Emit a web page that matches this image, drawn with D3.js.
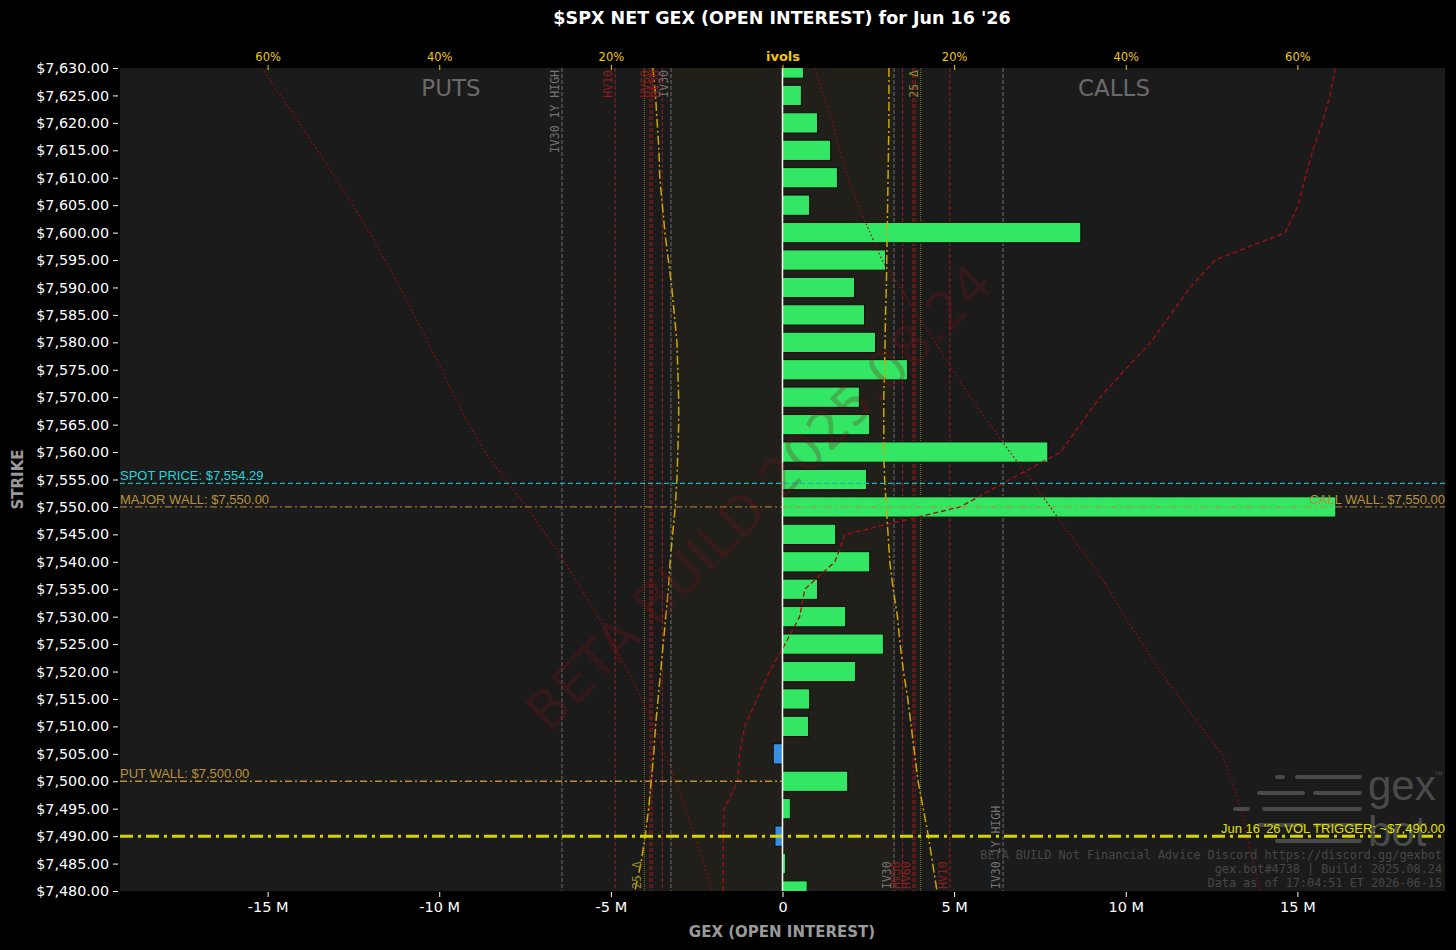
<!DOCTYPE html>
<html><head><meta charset="utf-8">
<script src="https://cdn.jsdelivr.net/npm/d3@7"></script>
<style>
html,body{margin:0;padding:0;background:#000;}
svg{display:block;}
</style></head>
<body>
<svg id="chart" width="1456" height="950"></svg>
<script>
// ---------------- DATA ----------------
const strikes = [7630,7625,7620,7615,7610,7605,7600,7595,7590,7585,7580,7575,7570,7565,7560,7555,7550,7545,7540,7535,7530,7525,7520,7515,7510,7505,7500,7495,7490,7485,7480];
// Net GEX in millions
const netGex = [0.61,0.55,1.02,1.40,1.60,0.79,8.69,3.00,2.10,2.39,2.71,3.64,2.24,2.54,7.73,2.45,16.12,1.55,2.54,1.02,1.84,2.94,2.13,0.79,0.76,-0.27,1.90,0.23,-0.22,0.09,0.72];
// implied vol curves (%), put side drawn left, call side drawn right
const putIvol  = [15.1,14.8,14.6,14.4,14.3,14.0,13.7,13.3,12.9,12.6,12.3,12.2,12.1,12.1,12.2,12.3,12.5,12.8,13.1,13.3,13.6,13.9,14.2,14.5,14.8,15.0,15.3,15.6,16.0,16.5,17.2];
const callIvol = [12.4,12.4,12.4,12.35,12.3,12.25,12.2,12.15,12.1,12.0,11.95,11.9,11.8,11.8,11.8,11.9,12.1,12.3,12.5,12.9,13.4,13.7,14.1,14.6,15.0,15.4,15.8,16.4,17.0,17.5,18.0];
const putSkew  = [60.7,58.5,56.3,54.2,52.1,50.1,48.1,46.3,44.6,42.9,41.3,39.7,38.2,36.5,34.7,32.3,29.8,27.6,25.4,23.4,21.5,19.7,18.0,16.4,14.9,13.7,12.5,11.3,10.2,9.2,8.2];
const callSkew = [3.8,4.7,5.8,6.7,7.6,8.8,10.2,11.6,13.7,15.7,17.8,19.8,21.9,24.2,26.5,28.9,31.2,33.5,35.9,38.0,39.9,42.0,44.0,46.4,48.7,51.2,52.4,53.4,54.1,54.9,55.7];
// signed curve (negative = put side)
const netCurve = [64.4,63.8,62.9,61.8,60.9,60.1,58.6,50.4,47.5,45.2,42.9,39.9,37.0,34.7,32.4,26.5,20.7,7.3,6.1,2.6,2.0,0.3,-1.5,-3.0,-4.4,-5.0,-5.2,-6.8,-6.9,-6.9,-6.9];
// reference vertical vol lines (%)
const volLineNames  = ["IV30","HV30","HV60","HVx","25 Δ","HV10","IV30 1Y HIGH"];
const volLineValues = [13.0, 14.0, 15.2, 15.45, 16.1, 19.5, 25.7];
const volLineKinds  = ["iv","hv","hv","hv","delta","hv","iv"];
const volLineLabeled= [true,true,true,false,true,true,true];
const gexTicks = [-15,-10,-5,0,5,10,15];
const gexTickLabels = ["-15 M","-10 M","-5 M","0","5 M","10 M","15 M"];
const volTicks = [-60,-40,-20,0,20,40,60];
const volTickLabels = ["60%","40%","20%","ivols","20%","40%","60%"];
const spotPrice = 7554.29, majorWall = 7550, callWall = 7550, putWall = 7500, volTrigger = 7490;
const footerLines = ["BETA BUILD Not Financial Advice Discord https://discord.gg/gexbot","gex.bot#4738 | Build: 2025.08.24","Data as of 17:04:51 ET 2026-06-15"];

// ---------------- LAYOUT ----------------
const L = 120, R = 1445, T = 68, B = 891;
const svg = d3.select("#chart");
const x = d3.scaleLinear().domain([-19.3, 19.3]).range([L, R]);
const vx = d3.scaleLinear().domain([-77.2, 77.2]).range([L, R]);
const y = d3.scaleLinear().domain([7480, 7630]).range([B, T]);
const step = Math.abs(y(7485) - y(7480));
const barH = step * 0.74;

svg.append("rect").attr("width",1456).attr("height",950).attr("fill","#000");
svg.append("defs").append("clipPath").attr("id","clip")
  .append("rect").attr("x",L).attr("y",T).attr("width",R-L).attr("height",B-T);

const plot = svg.append("g").attr("clip-path","url(#clip)");
plot.append("rect").attr("x",L).attr("y",T).attr("width",R-L).attr("height",B-T).attr("fill","#1b1b1b");
// central band between IV30 lines
plot.append("rect").attr("x",vx(-13.0)).attr("y",T).attr("width",vx(13.06)-vx(-13.0)).attr("height",B-T).attr("fill","#201f1a");

// vertical reference lines
const kindColor = {iv:"#6e6e6e", hv:"#9a1c1c", delta:"#7c7a22"};
const kindDash = {iv:"4,2", hv:"4,2", delta:"1,1"};
const labelColor = {iv:"#747474", hv:"#8a1d1d", delta:"#8c8a2a"};
volLineValues.forEach((v,i)=>{
  [-1,1].forEach(side=>{
    const xx = vx(side*v);
    plot.append("line").attr("x1",xx).attr("x2",xx).attr("y1",T).attr("y2",B)
      .attr("stroke",kindColor[volLineKinds[i]]).attr("stroke-width",1)
      .attr("stroke-dasharray",kindDash[volLineKinds[i]]);
  });
});

// bars
plot.selectAll("rect.bar").data(strikes).enter().append("rect")
  .attr("x",(d,i)=>Math.min(x(0),x(netGex[i])))
  .attr("y",d=>y(d)-barH/2)
  .attr("width",(d,i)=>Math.abs(x(netGex[i])-x(0)))
  .attr("height",barH)
  .attr("fill",(d,i)=>netGex[i]>=0?"#33e663":"#3a8fe3")
  .attr("stroke","#0b0b0b").attr("stroke-width",1);

// curves
const lineOf = (vals, sign) => d3.line().x((d,i)=>vx(sign*vals[i])).y(d=>y(d));
plot.append("path").attr("d",lineOf(putSkew,-1)(strikes)).attr("fill","none")
  .attr("stroke","#8f0d0d").attr("stroke-width",1.3).attr("stroke-dasharray","1.5,2.5");
plot.append("path").attr("d",lineOf(callSkew,1)(strikes)).attr("fill","none")
  .attr("stroke","#8f0d0d").attr("stroke-width",1.3).attr("stroke-dasharray","1.5,2.5");
plot.append("path").attr("d",lineOf(netCurve,1)(strikes)).attr("fill","none")
  .attr("stroke","#a30f0f").attr("stroke-width",1.3).attr("stroke-dasharray","5,3");
plot.append("path").attr("d",lineOf(putIvol,-1)(strikes)).attr("fill","none")
  .attr("stroke","#cda600").attr("stroke-width",1.5).attr("stroke-dasharray","9,3,2,3");
plot.append("path").attr("d",lineOf(callIvol,1)(strikes)).attr("fill","none")
  .attr("stroke","#cda600").attr("stroke-width",1.5).attr("stroke-dasharray","9,3,2,3");

// vertical line labels
const mono = "'DejaVu Sans Mono', monospace";
volLineValues.forEach((v,i)=>{
  if(!volLineLabeled[i]) return;
  const k = volLineKinds[i];
  const putTop = k !== "delta";
  const xp = vx(-v) - 3;
  svg.append("text").attr("transform",`translate(${xp},${putTop?T+2:B-2}) rotate(-90)`)
    .attr("text-anchor",putTop?"end":"start").attr("font-family",mono).attr("font-size",11.5)
    .attr("fill",labelColor[k]).text(volLineNames[i]);
  const xc = vx(v) - 3;
  svg.append("text").attr("transform",`translate(${xc},${putTop?B-2:T+2}) rotate(-90)`)
    .attr("text-anchor",putTop?"start":"end").attr("font-family",mono).attr("font-size",11.5)
    .attr("fill",labelColor[k]).text(volLineNames[i]);
});

// PUTS / CALLS
svg.append("text").attr("x",451).attr("y",96).attr("text-anchor","middle").attr("font-family","'DejaVu Sans'")
  .attr("font-size",23).attr("fill","#6a6a6a").text("PUTS");
svg.append("text").attr("x",1114).attr("y",96).attr("text-anchor","middle").attr("font-family","'DejaVu Sans'")
  .attr("font-size",23).attr("fill","#6a6a6a").text("CALLS");

// horizontal lines
const hl = svg.append("g").attr("clip-path","url(#clip)");
hl.append("line").attr("x1",L).attr("x2",R).attr("y1",y(spotPrice)).attr("y2",y(spotPrice))
  .attr("stroke","#1fb3b8").attr("stroke-width",1.3).attr("stroke-dasharray","5,3");
hl.append("line").attr("x1",L).attr("x2",R).attr("y1",y(majorWall)).attr("y2",y(majorWall))
  .attr("stroke","#b8913c").attr("stroke-width",1).attr("stroke-dasharray","7,3,2,3");
hl.append("line").attr("x1",L).attr("x2",x(0)).attr("y1",y(putWall)).attr("y2",y(putWall))
  .attr("stroke","#b8913c").attr("stroke-width",1.3).attr("stroke-dasharray","7,3,2,3");
hl.append("line").attr("x1",L).attr("x2",R).attr("y1",y(volTrigger)).attr("y2",y(volTrigger))
  .attr("stroke","#d6d400").attr("stroke-width",3).attr("stroke-dasharray","13,5,3,5");

// zero line
svg.append("line").attr("x1",x(0)).attr("x2",x(0)).attr("y1",T).attr("y2",B).attr("stroke","#fff").attr("stroke-width",1.5);

// watermark
svg.append("text").attr("transform","translate(762,500) rotate(-45)").attr("text-anchor","middle")
  .attr("dominant-baseline","middle").attr("font-family","'DejaVu Sans'").attr("font-size",53)
  .attr("fill","rgba(120,20,20,0.26)").text("BETA BUILD  2025.08.24");

// logo (drawn beneath the labels)
const logo = svg.append("g").attr("fill","#4a4a4a");
[[1275,1285,777],[1295,1362,777],[1257,1305,793],[1313,1362,793],[1233,1250,809],[1262,1362,809],[1257,1305,825],[1313,1362,825],[1275,1362,841]]
  .forEach(s=>logo.append("rect").attr("x",s[0]).attr("y",s[2]-2).attr("width",s[1]-s[0]).attr("height",4).attr("rx",2));
logo.append("text").attr("x",1368).attr("y",800).attr("font-family","'Liberation Sans', Arial").attr("font-size",42).text("gex");
logo.append("text").attr("x",1368).attr("y",846).attr("font-family","'Liberation Sans', Arial").attr("font-size",42).text("bot");
logo.append("text").attr("x",1434).attr("y",778).attr("font-family","'Liberation Sans', Arial").attr("font-size",9).text("™");

// line labels
const sans = "'Liberation Sans', Arial, sans-serif";
const fmt = d3.format("$,.2f");
svg.append("text").attr("x",L).attr("y",y(spotPrice)-3).attr("font-family",sans).attr("font-size",13)
  .attr("fill","#22d3d8").text("SPOT PRICE: "+fmt(spotPrice));
svg.append("text").attr("x",L).attr("y",y(majorWall)-3).attr("font-family",sans).attr("font-size",13)
  .attr("fill","#b8913c").text("MAJOR WALL: "+fmt(majorWall));
svg.append("text").attr("x",R).attr("y",y(callWall)-3).attr("text-anchor","end").attr("font-family",sans).attr("font-size",13)
  .attr("fill","#b8913c").text("CALL WALL: "+fmt(callWall));
svg.append("text").attr("x",L).attr("y",y(putWall)-3).attr("font-family",sans).attr("font-size",13)
  .attr("fill","#b8913c").text("PUT WALL: "+fmt(putWall));
svg.append("text").attr("x",R).attr("y",y(volTrigger)-3).attr("text-anchor","end").attr("font-family",sans).attr("font-size",13)
  .attr("fill","#e2e000").text("Jun 16 '26 VOL TRIGGER: ~"+fmt(volTrigger));

// footer text
footerLines.forEach((t,i)=>{
  svg.append("text").attr("x",1442).attr("y",859+i*14).attr("text-anchor","end").attr("font-family",mono)
    .attr("font-size",11.8).attr("fill","#474747").text(t);
});

// axes
const yAxis = d3.axisLeft(y).tickValues(strikes).tickFormat(fmt).tickSize(5).tickPadding(4);
const gy = svg.append("g").attr("transform",`translate(${L-2},0)`).call(yAxis);
gy.select(".domain").remove();
gy.selectAll("line").attr("stroke","#fff");
gy.selectAll("text").attr("fill","#fff").attr("font-family","'DejaVu Sans'").attr("font-size",14.3);

const xAxis = d3.axisBottom(x).tickValues(gexTicks).tickFormat((d,i)=>gexTickLabels[i]).tickSize(5).tickPadding(5);
const gx = svg.append("g").attr("transform",`translate(0,${B+1})`).call(xAxis);
gx.select(".domain").remove();
gx.selectAll("line").attr("stroke","#fff");
gx.selectAll("text").attr("fill","#fff").attr("font-family","'DejaVu Sans'").attr("font-size",14.5);

const tAxis = d3.axisTop(vx).tickValues(volTicks).tickFormat((d,i)=>volTickLabels[i]).tickSize(5).tickPadding(4);
const gt = svg.append("g").attr("transform",`translate(0,${T+2})`).call(tAxis);
gt.select(".domain").remove();
gt.selectAll("line").attr("stroke","#f2c800");
gt.selectAll("text").attr("fill","#f2c800").attr("font-family","'DejaVu Sans'")
  .attr("font-weight",(d)=>d===0?"bold":"normal").attr("font-size",d=>d===0?13:11.5);

// titles
svg.append("text").attr("x",782).attr("y",24).attr("text-anchor","middle").attr("font-family","'DejaVu Sans'")
  .attr("font-weight","bold").attr("font-size",17.5).attr("fill","#fff").text("$SPX NET GEX (OPEN INTEREST) for Jun 16 '26");
svg.append("text").attr("x",782).attr("y",937).attr("text-anchor","middle").attr("font-family","'DejaVu Sans'")
  .attr("font-weight","bold").attr("font-size",15).attr("fill","#9a9a9a").text("GEX (OPEN INTEREST)");
svg.append("text").attr("transform",`translate(23,${(T+B)/2}) rotate(-90)`).attr("text-anchor","middle").attr("font-family","'DejaVu Sans'")
  .attr("font-weight","bold").attr("font-size",15).attr("fill","#9a9a9a").text("STRIKE");
</script>
</body></html>
